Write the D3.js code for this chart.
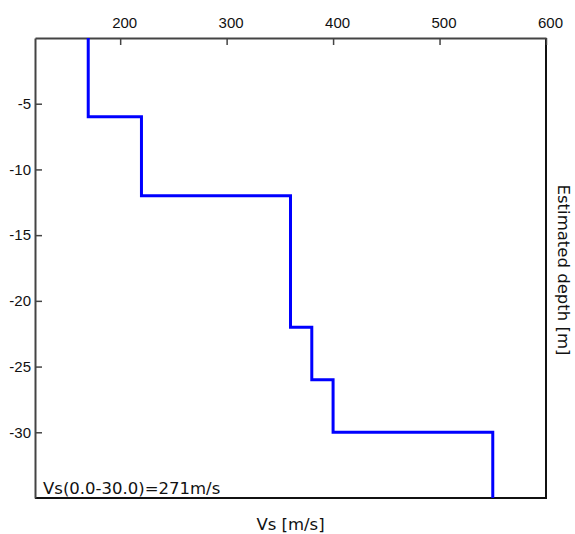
<!DOCTYPE html>
<html><head><meta charset="utf-8">
<script src="https://cdn.jsdelivr.net/npm/d3@7"></script>
<style>body{margin:0;background:#fff}</style>
</head><body>
<script>
const layerTop = [0, 6, 12, 22, 26, 30];
const layerBottom = [6, 12, 22, 26, 30, 35];
const vsValues = [170, 220, 360, 380, 400, 550];
const xTicks = [200, 300, 400, 500, 600];
const yTicks = [-5, -10, -15, -20, -25, -30];
const xDomain = [120, 600];
const yDomain = [0, -35];
const annotation = "Vs(0.0-30.0)=271m/s";
const xTitle = "Vs [m/s]";
const yTitle = "Estimated depth [m]";

const W = 575, H = 534;
const L = 35, R = 546, T = 38, B = 498;
const svg = d3.select("body").append("svg").attr("width", W).attr("height", H);
const x = d3.scaleLinear().domain(xDomain).range([L, R]);
const y = d3.scaleLinear().domain(yDomain).range([T, B]);

// frame
svg.append("line").attr("x1", R).attr("x2", R).attr("y1", T).attr("y2", B).attr("stroke", "#111").attr("stroke-width", 2);
svg.append("line").attr("x1", L).attr("x2", R+1).attr("y1", B).attr("y2", B).attr("stroke", "#111").attr("stroke-width", 2);

const fmt = d => String(d);
const tickFont = "'Liberation Sans', Arial, sans-serif";
const gx = svg.append("g").attr("transform", `translate(0,${T})`)
  .call(d3.axisTop(x).tickValues(xTicks).tickSizeInner(-7).tickSizeOuter(0).tickPadding(10).tickFormat(fmt));
gx.select(".domain").attr("stroke", "#444").attr("stroke-width", 2);
gx.selectAll(".tick line").attr("stroke", "#444").attr("stroke-width", 1.5);
gx.selectAll(".tick text").attr("dx", 4).attr("fill", "#111").style("font-family", tickFont).style("font-size", "15px");

const gy = svg.append("g").attr("transform", `translate(${L},0)`)
  .call(d3.axisLeft(y).tickValues(yTicks).tickSizeInner(-7).tickSizeOuter(0).tickPadding(4).tickFormat(fmt));
gy.select(".domain").attr("stroke", "#444").attr("stroke-width", 2);
gy.selectAll(".tick line").attr("stroke", "#444").attr("stroke-width", 1.5);
gy.selectAll(".tick text").attr("fill", "#111").style("font-family", tickFont).style("font-size", "15px");

// profile
const pts = [];
vsValues.forEach((v, i) => { pts.push([v, -layerTop[i]]); pts.push([v, -layerBottom[i]]); });
svg.append("path").datum(pts)
  .attr("d", d3.line().x(d => x(d[0])).y(d => y(d[1])))
  .attr("fill", "none").attr("stroke", "#0000ff").attr("stroke-width", 3).attr("stroke-linejoin", "miter");

const titleFont = "'DejaVu Sans', Verdana, sans-serif";
svg.append("text").attr("x", 43).attr("y", 494).text(annotation)
  .attr("fill", "#111").style("font-family", titleFont).style("font-size", "16.5px");
svg.append("text").attr("x", (L + R) / 2).attr("y", 530).attr("text-anchor", "middle").text(xTitle)
  .attr("fill", "#111").style("font-family", titleFont).style("font-size", "16.5px");
svg.append("text").attr("transform", `translate(558,${(T + B) / 2 + 2}) rotate(90)`).attr("text-anchor", "middle").text(yTitle)
  .attr("fill", "#111").style("font-family", titleFont).style("font-size", "16.5px");
</script>
</body></html>
